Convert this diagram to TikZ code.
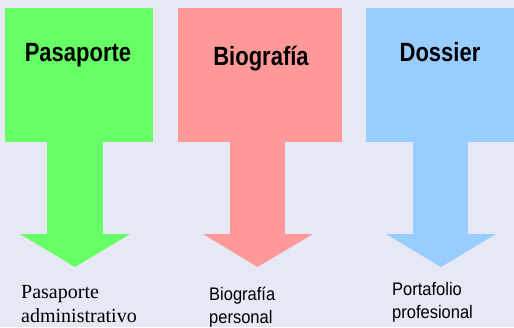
\documentclass[tikz,border=0pt]{standalone}
\usepackage{fontspec}
\setmainfont{Liberation Serif}
\setsansfont{Liberation Sans}
\definecolor{bg}{HTML}{E6E8F6}
\definecolor{cgreen}{HTML}{66FF66}
\definecolor{cpink}{HTML}{FF9999}
\definecolor{cblue}{HTML}{99CCFF}
\tikzset{
  head/.style={inner sep=0pt, anchor=base, font=\sffamily\bfseries\fontsize{22}{26}\selectfont},
  labsans/.style={inner sep=0pt, anchor=base west, align=left, font=\sffamily\fontsize{16.5}{23}\selectfont},
  labserif/.style={inner sep=0pt, anchor=base west, align=left, font=\rmfamily\fontsize{20}{24}\selectfont},
}
\begin{document}
\begin{tikzpicture}[x=1pt,y=-1pt]
\useasboundingbox (0,0) rectangle (514,327);
\fill[bg] (0,0) rectangle (514,327);
% green
\fill[cgreen] (5,8) rectangle (153,142);
\fill[cgreen] (47,141) rectangle (103,234.5);
\fill[cgreen] (20,234) -- (130,234) -- (75,267) -- cycle;
% pink
\fill[cpink] (178,8) rectangle (342,142);
\fill[cpink] (230,141) rectangle (285,234.5);
\fill[cpink] (203,234) -- (313,234) -- (257.5,267) -- cycle;
% blue
\fill[cblue] (366,8) rectangle (514,142);
\fill[cblue] (413,141) rectangle (468,234.5);
\fill[cblue] (386,234) -- (496,234) -- (441,267) -- cycle;
% titles
\node[head] (t1) at (78,61) {\scalebox{1}[1.2]{Pasaporte}};
\node[head] (t2) at (261,65) {\scalebox{1}[1.2]{Biografía}};
\node[head] (t3) at (440,61) {\scalebox{1}[1.2]{Dossier}};
% labels (anchor = baseline of last line)
\node[labserif] (l1) at (21,322) {Pasaporte\\administrativo};
\node[labsans] (l2) at (209,323) {\scalebox{1}[1.1]{Biografía}\\\scalebox{1}[1.1]{personal}};
\node[labsans] (l3) at (392,318) {\scalebox{1}[1.1]{Portafolio}\\\scalebox{1}[1.1]{profesional}};
\end{tikzpicture}
\end{document}
